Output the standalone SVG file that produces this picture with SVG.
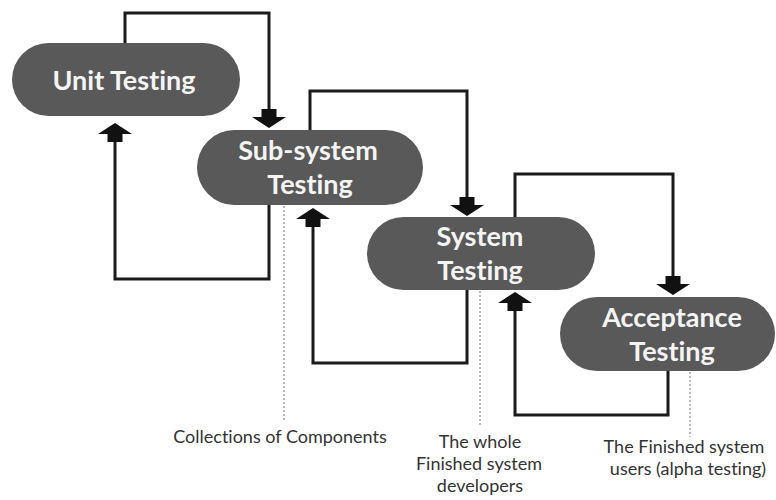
<svg xmlns="http://www.w3.org/2000/svg" width="776" height="500" viewBox="0 0 776 500">
  <style>
    .pill { fill: #595959; }
    .label { font-family: Lato, "Open Sans", "Liberation Sans", sans-serif; font-weight: 700; font-size: 27px; fill: #f4f4f4; text-anchor: middle; font-variant-ligatures: none; }
    .link { fill: none; stroke: #1a1a1a; stroke-width: 3; marker-end: url(#blockArrow); }
    .guide { fill: none; stroke: #777; stroke-width: 1; stroke-dasharray: 2 2; }
    .note { font-family: Lato, "Open Sans", "Liberation Sans", sans-serif; font-size: 18px; fill: #333; text-anchor: middle; font-variant-ligatures: none; }
  </style>
  <defs>
    <!-- chunky block arrowhead: neck then triangle, drawn forward from the line end -->
    <marker id="blockArrow" markerUnits="userSpaceOnUse" viewBox="0 -17 18 34" refX="0" refY="0" markerWidth="18" markerHeight="34" orient="auto" overflow="visible">
      <path d="M-1,-7.5 H7 V-17 L18,0 L7,17 V7.5 H-1 Z" fill="#111"/>
    </marker>
  </defs>

  <rect width="776" height="500" fill="#ffffff"/>

  <!-- connectors: forward hand-offs and feedback loops -->
  <g id="connectors">
    <path class="link" d="M125,43 V13 H269 V110"/>
    <path class="link" d="M269,205 V279 H115 V141"/>
    <path class="link" d="M310,130 V91 H467 V198"/>
    <path class="link" d="M467,290 V363 H313 V226"/>
    <path class="link" d="M515,217 V174 H673 V277"/>
    <path class="link" d="M668,371 V415 H515 V310"/>
  </g>

  <!-- dotted leaders to the notes -->
  <g id="leaders">
    <line class="guide" x1="284" y1="206" x2="284" y2="422"/>
    <line class="guide" x1="480" y1="291" x2="480" y2="425"/>
    <line class="guide" x1="690" y1="372" x2="690" y2="437"/>
  </g>

  <g id="unit-testing">
    <rect class="pill" x="12" y="43" width="228" height="73" rx="36.5"/>
    <text class="label" x="124" y="90">Unit Testing</text>
  </g>

  <g id="subsystem-testing">
    <rect class="pill" x="197" y="130" width="226" height="75" rx="37.5"/>
    <text class="label" x="308" y="160">Sub-system</text>
    <text class="label" x="310" y="194">Testing</text>
  </g>

  <g id="system-testing">
    <rect class="pill" x="367" y="217" width="228" height="73" rx="36.5"/>
    <text class="label" x="480" y="246">System</text>
    <text class="label" x="480" y="280">Testing</text>
  </g>

  <g id="acceptance-testing">
    <rect class="pill" x="560" y="297" width="215" height="74" rx="37"/>
    <text class="label" x="672" y="327">Acceptance</text>
    <text class="label" x="672" y="361">Testing</text>
  </g>

  <g id="notes">
    <text class="note" x="280" y="443">Collections of Components</text>
    <text class="note" x="480" y="448">The whole</text>
    <text class="note" x="479" y="470">Finished system</text>
    <text class="note" x="480" y="492">developers</text>
    <text class="note" x="684" y="453">The Finished system</text>
    <text class="note" x="688" y="475">users (alpha testing)</text>
  </g>
</svg>
